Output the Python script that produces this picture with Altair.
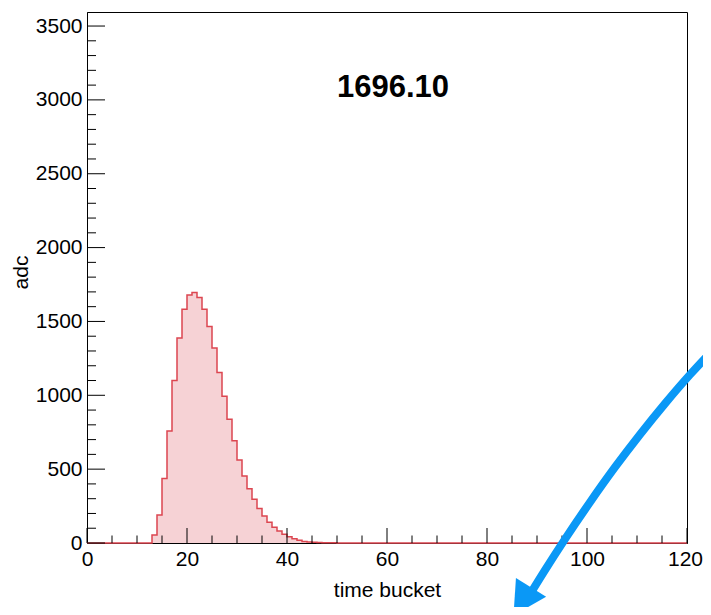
import altair as alt
import pandas as pd

# ---------------- data ----------------
first_bin = 13
adc_values = [55, 190, 437, 758, 1100, 1388, 1583, 1679, 1696.1, 1662,
              1583, 1465, 1320, 1154, 994, 838, 692, 562, 454, 368,
              296, 233, 183, 140, 107, 82, 60, 43, 29, 18,
              11, 7, 5, 3, 2, 1.5, 1, 0.7, 0.5, 0.3]
n_bins = 120
x_domain = [0, 120]
y_domain = [0, 3595]
x_ticks_major = [0, 20, 40, 60, 80, 100, 120]
x_ticks_minor = [v for v in range(0, 121, 5) if v % 20]
y_ticks_major = [0, 500, 1000, 1500, 2000, 2500, 3000, 3500]
y_ticks_minor = [v for v in range(0, 3501, 100) if v % 500]
peak_label = ["1696.10"]
arrow_x = [88.2, 91.6, 95.6, 100.6, 105.6, 110.6, 115.6, 120.6, 125.0]
arrow_y = [-370, -184, 26, 276, 513, 735, 944, 1140, 1300]
arrow_head_x = [87.06]
arrow_head_y = [-395]

FONT = "Liberation Sans"
RED = "#dc4650"
PINK = "#f6d2d5"
BLUE = "#0a98f6"

counts = [0.0] * n_bins
for i, v in enumerate(adc_values):
    counts[first_bin + i] = v
hist = pd.DataFrame({"edge": list(range(n_bins + 1)),
                     "adc": counts + [counts[-1]]})

xs = alt.Scale(domain=x_domain, nice=False, zero=False)
ys = alt.Scale(domain=y_domain, nice=False, zero=False)

x_axis = alt.Axis(values=x_ticks_major, format="d", ticks=False, grid=False,
                  domainColor="black", labelFont=FONT, labelFontSize=21,
                  labelColor="black", labelPadding=5, labelFlush=False,
                  labelOffset=alt.ExprRef("datum.value == 120 ? -2 : 0"),
                  labelOverlap=False, title="time bucket", titleFont=FONT,
                  titleFontSize=21, titleFontWeight="normal", titleColor="black",
                  titleX=300, titleY=47, titleBaseline="middle", titleAlign="center")
y_axis = alt.Axis(values=y_ticks_major, format="d", ticks=False, grid=False,
                  domainColor="black", labelFont=FONT, labelFontSize=21,
                  labelColor="black", labelPadding=5, labelFlush=False,
                  labelOverlap=False, title="adc", titleFont=FONT,
                  titleFontSize=21, titleFontWeight="normal", titleColor="black",
                  titleX=-66, titleY=260, titleAngle=270, titleBaseline="middle",
                  titleAlign="center")

fill = alt.Chart(hist).mark_area(interpolate="step-after", color=PINK).encode(
    x=alt.X("edge:Q", scale=xs, axis=x_axis),
    y=alt.Y("adc:Q", scale=ys, axis=y_axis),
)
outline = alt.Chart(hist).mark_line(interpolate="step-after", color=RED,
                                    strokeWidth=1.5).encode(
    x=alt.X("edge:Q", scale=xs),
    y=alt.Y("adc:Q", scale=ys),
)

H = 531
xmaj = alt.Chart(pd.DataFrame({"t": x_ticks_major})).mark_rule(color="black", strokeWidth=1).encode(
    x=alt.X("t:Q", scale=xs), y=alt.value(H), y2=alt.value(H - 15))
xmin = alt.Chart(pd.DataFrame({"t": x_ticks_minor})).mark_rule(color="black", strokeWidth=1).encode(
    x=alt.X("t:Q", scale=xs), y=alt.value(H), y2=alt.value(H - 7.5))
ymaj = alt.Chart(pd.DataFrame({"t": y_ticks_major})).mark_rule(color="black", strokeWidth=1).encode(
    y=alt.Y("t:Q", scale=ys), x=alt.value(0), x2=alt.value(18))
ymin = alt.Chart(pd.DataFrame({"t": y_ticks_minor})).mark_rule(color="black", strokeWidth=1).encode(
    y=alt.Y("t:Q", scale=ys), x=alt.value(0), x2=alt.value(9))

title = alt.Chart(pd.DataFrame({"label": peak_label})).mark_text(
    font=FONT, fontSize=31, fontWeight="bold", color="black",
    align="center", baseline="middle").encode(
    text="label:N", x=alt.value(306), y=alt.value(76))

arrow = alt.Chart(pd.DataFrame({"x": arrow_x, "y": arrow_y})).mark_line(
    color=BLUE, strokeWidth=8, interpolate="monotone", clip=False, strokeCap="butt").encode(
    x=alt.X("x:Q", scale=xs), y=alt.Y("y:Q", scale=ys), order="x:Q")
head = alt.Chart(pd.DataFrame({"x": arrow_head_x, "y": arrow_head_y})).mark_point(
    shape="M0,-1L1.08,1L-1.08,1Z", filled=True, size=1089, angle=212, color=BLUE,
    opacity=1, clip=False).encode(
    x=alt.X("x:Q", scale=xs), y=alt.Y("y:Q", scale=ys))

chart = alt.layer(fill, outline, xmin, xmaj, ymin, ymaj, title, arrow, head).properties(
    width=600, height=H, autosize=alt.AutoSizeParams(type="none"),
    padding={"left": 79, "top": 4, "right": 16, "bottom": 64},
).configure_view(stroke="black", strokeWidth=1)

chart.save("out.html", embed_options={"renderer": "svg", "actions": False})
